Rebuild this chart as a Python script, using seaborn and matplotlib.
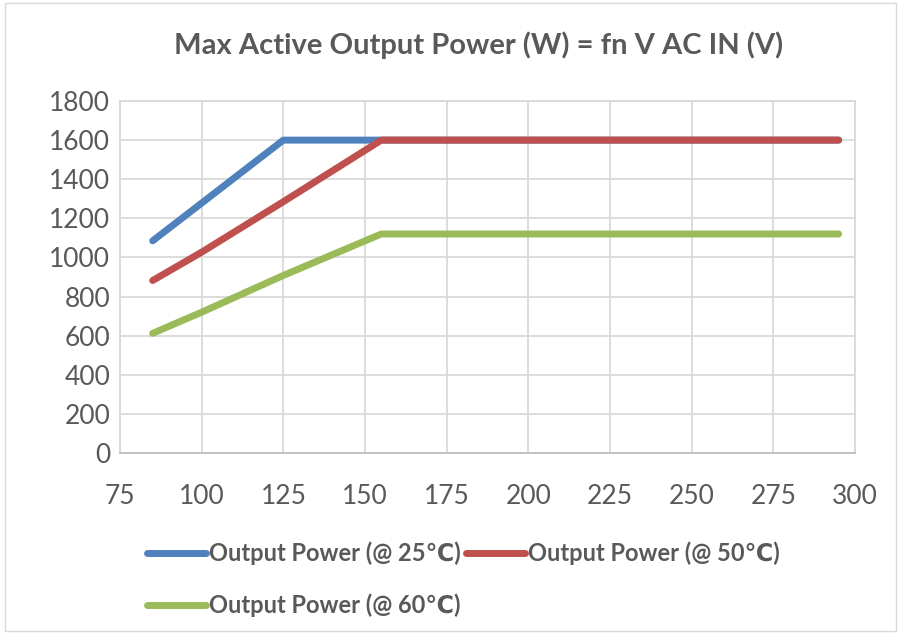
import numpy as np
import pandas as pd
import matplotlib
matplotlib.use("Agg")
import matplotlib.pyplot as plt
import seaborn as sns

# Input voltage (V) and max active output power (W)
v_in = [85, 100, 125, 155, 295]
p_25 = [1085, 1278, 1600, 1600, 1600]
p_50 = [882, 1027, 1285, 1600, 1600]
p_60 = [612, 720, 908, 1120, 1120]

series = ["Output Power (@ 25\u2103)", "Output Power (@ 50\u2103)", "Output Power (@ 60\u2103)"]
colors = ["#4F81BD", "#C0504D", "#9BBB59"]

df = pd.DataFrame({
    "V": v_in * 3,
    "P": p_25 + p_50 + p_60,
    "series": [series[0]] * 5 + [series[1]] * 5 + [series[2]] * 5,
})

sns.set_theme(style="whitegrid")
plt.rcParams["font.family"] = ["Lato", "DejaVu Sans"]

fig = plt.figure(figsize=(9, 6.34), dpi=100)
ax = fig.add_axes([120 / 900, 1 - 453 / 634, 735 / 900, 352 / 634])

sns.lineplot(data=df, x="V", y="P", hue="series", palette=colors, ax=ax,
             linewidth=5, solid_capstyle="round", legend=False, sort=False)

ax.set_xlim(75, 300)
ax.set_ylim(0, 1800)
ax.set_xticks(np.arange(75, 301, 25))
ax.set_yticks(np.arange(0, 1801, 200))
ax.set_xlabel("")
ax.set_ylabel("")
ax.tick_params(axis="both", labelsize=19, colors="#595959", length=0)
ax.tick_params(axis="x", pad=22)
ax.tick_params(axis="y", pad=7)
ax.grid(True, color="#D9D9D9", linewidth=1.3)
for s in ax.spines.values():
    s.set_color("#D9D9D9")
    s.set_linewidth(1.3)
ax.spines["bottom"].set_color("#BFBFBF")

fig.text(0.532, 1 - 45 / 634, "Max Active Output Power (W) = fn V AC IN (V)",
         ha="center", va="center", fontsize=21, fontweight="bold", color="#595959")

# column-major fill of a 2-column legend: reorder so rows read 25, 50 / 60
order = [0, 2, 1]
handles = [plt.Line2D([], [], color=colors[i], linewidth=5, solid_capstyle="round") for i in order]
labels = [series[i] for i in order]
fig.legend(handles, labels, loc="upper left", bbox_to_anchor=(126 / 900, 1 - 520 / 634),
           ncol=2, frameon=False, handlelength=2.5, handletextpad=0.1,
           columnspacing=0.25, labelspacing=1.2,
           prop={"size": 17, "weight": "bold"}, labelcolor="#595959")

# light border around the chart area
fig.patches.append(plt.Rectangle((0.005, 0.005), 0.99, 0.99, transform=fig.transFigure,
                                 fill=False, edgecolor="#D9D9D9", linewidth=1))

fig.savefig("out.png", dpi=100, facecolor="white")
